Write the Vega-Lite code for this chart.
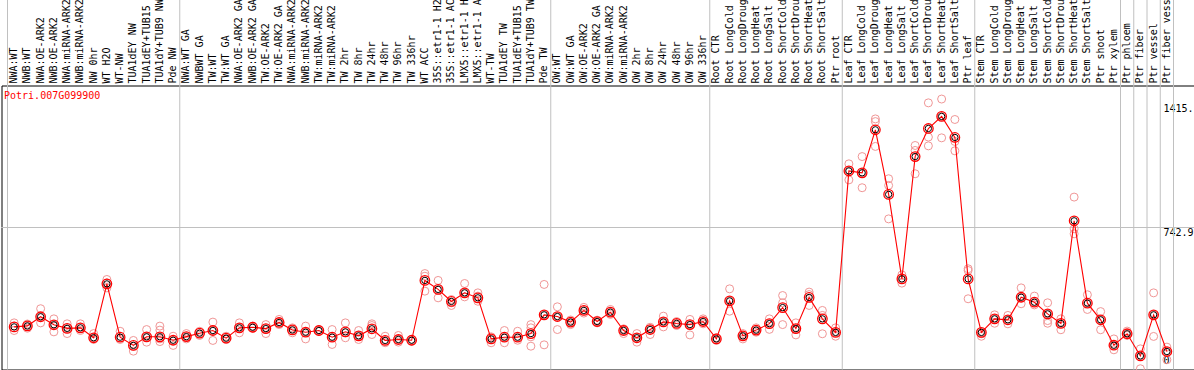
{
  "$schema": "https://vega.github.io/schema/vega-lite/v6.json",
  "width": 1192.5,
  "height": 284,
  "autosize": "none",
  "padding": {"top": 85.5, "left": 1.5, "right": 0, "bottom": 0.5},
  "background": "white",
  "config": {"view": {"stroke": "black", "strokeWidth": 1}, "font": "DejaVu Sans Mono"},
  "datasets": {
    "samples": [
      {"i":0,"s":"NWA:WT","m":223},{"i":1,"s":"NWB:WT","m":228},{"i":2,"s":"NWA:OE-ARK2","m":276},{"i":3,"s":"NWB:OE-ARK2","m":234},
      {"i":4,"s":"NWA:miRNA-ARK2","m":215},{"i":5,"s":"NWB:miRNA-ARK2","m":218},{"i":6,"s":"NW 0hr","m":166},{"i":7,"s":"WT H2O","m":448},
      {"i":8,"s":"WT-NW","m":169},{"i":9,"s":"TUA1dEY NW","m":126},{"i":10,"s":"TUA1dEY+TUB15 NW","m":171},{"i":11,"s":"TUA1dY+TUB9 NW","m":171},
      {"i":12,"s":"Pde NW","m":153},{"i":13,"s":"NWA:WT GA","m":172},{"i":14,"s":"NWBWT GA","m":190},{"i":15,"s":"TW:WT","m":204},
      {"i":16,"s":"TW:WT GA","m":164},{"i":17,"s":"NWA:OE-ARK2 GA","m":218},{"i":18,"s":"NWB:OE-ARK2 GA","m":221},{"i":19,"s":"TW:OE-ARK2","m":214},
      {"i":20,"s":"TW:OE-ARK2 GA","m":246},{"i":21,"s":"NWA:miRNA-ARK2 GA","m":207},{"i":22,"s":"NWB:miRNA-ARK2 GA","m":195},{"i":23,"s":"TW:miRNA-ARK2","m":204},
      {"i":24,"s":"TW:miRNA-ARK2 GA","m":169},{"i":25,"s":"TW 2hr","m":197},{"i":26,"s":"TW 8hr","m":176},{"i":27,"s":"TW 24hr","m":213},
      {"i":28,"s":"TW 48hr","m":152},{"i":29,"s":"TW 96hr","m":157},{"i":30,"s":"TW 336hr","m":153},{"i":31,"s":"WT ACC","m":466},
      {"i":32,"s":"35S::etr1-1 H2O","m":419},{"i":33,"s":"35S::etr1-1 ACC","m":356},{"i":34,"s":"LMX5::etr1-1 H2O","m":401},{"i":35,"s":"LMX5::etr1-1 ACC","m":375},
      {"i":36,"s":"WT-TW","m":160},{"i":37,"s":"TUA1dEY TW","m":169},{"i":38,"s":"TUA1dEY+TUB15 TW","m":169},{"i":39,"s":"TUA1dY+TUB9 TW","m":188},
      {"i":40,"s":"Pde TW","m":286},{"i":41,"s":"OW:WT","m":277},{"i":42,"s":"OW:WT GA","m":248},{"i":43,"s":"OW:OE-ARK2","m":309},
      {"i":44,"s":"OW:OE-ARK2 GA","m":251},{"i":45,"s":"OW:miRNA-ARK2","m":300},{"i":46,"s":"OW:miRNA-ARK2 GA","m":204},{"i":47,"s":"OW 2hr","m":166},
      {"i":48,"s":"OW 8hr","m":209},{"i":49,"s":"OW 24hr","m":249},{"i":50,"s":"OW 48hr","m":241},{"i":51,"s":"OW 96hr","m":235},
      {"i":52,"s":"OW 336hr","m":251},{"i":53,"s":"Root CTR","m":160},{"i":54,"s":"Root LongCold","m":359},{"i":55,"s":"Root LongDrought","m":176},
      {"i":56,"s":"Root LongHeat","m":206},{"i":57,"s":"Root LongSalt","m":240},{"i":58,"s":"Root ShortCold","m":324},{"i":59,"s":"Root ShortDrought","m":214},
      {"i":60,"s":"Root ShortHeat","m":377},{"i":61,"s":"Root ShortSalt","m":265},{"i":62,"s":"Ptr root","m":194},{"i":63,"s":"Leaf CTR","m":1039},
      {"i":64,"s":"Leaf LongCold","m":1029},{"i":65,"s":"Leaf LongDrought","m":1254},{"i":66,"s":"Leaf LongHeat","m":916},{"i":67,"s":"Leaf LongSalt","m":474},
      {"i":68,"s":"Leaf ShortCold","m":1114},{"i":69,"s":"Leaf ShortDrought","m":1261},{"i":70,"s":"Leaf ShortHeat","m":1324},{"i":71,"s":"Leaf ShortSalt","m":1214},
      {"i":72,"s":"Ptr leaf","m":474},{"i":73,"s":"Stem CTR","m":194},{"i":74,"s":"Stem LongCold","m":265},{"i":75,"s":"Stem LongDrought","m":260},
      {"i":76,"s":"Stem LongHeat","m":378},{"i":77,"s":"Stem LongSalt","m":352},{"i":78,"s":"Stem ShortCold","m":291},{"i":79,"s":"Stem ShortDrought","m":241},
      {"i":80,"s":"Stem ShortHeat","m":778},{"i":81,"s":"Stem ShortSalt","m":347},{"i":82,"s":"Ptr shoot","m":260},{"i":83,"s":"Ptr xylem","m":127},
      {"i":84,"s":"Ptr phloem","m":187},{"i":85,"s":"Ptr fiber","m":71},{"i":86,"s":"Ptr vessel","m":286},{"i":87,"s":"Ptr fiber vessel","m":94}
    ],
    "reps": [
      {"s":"NWA:WT","v":244},{"s":"NWA:WT","v":227},{"s":"NWA:WT","v":204},
      {"s":"NWB:WT","v":238},{"s":"NWB:WT","v":227},{"s":"NWB:WT","v":216},
      {"s":"NWA:OE-ARK2","v":318},{"s":"NWA:OE-ARK2","v":276},{"s":"NWA:OE-ARK2","v":244},
      {"s":"NWB:OE-ARK2","v":265},{"s":"NWB:OE-ARK2","v":234},{"s":"NWB:OE-ARK2","v":197},
      {"s":"NWA:miRNA-ARK2","v":239},{"s":"NWA:miRNA-ARK2","v":214},{"s":"NWA:miRNA-ARK2","v":188},
      {"s":"NWB:miRNA-ARK2","v":239},{"s":"NWB:miRNA-ARK2","v":221},{"s":"NWB:miRNA-ARK2","v":204},
      {"s":"NW 0hr","v":188},{"s":"NW 0hr","v":166},{"s":"NW 0hr","v":157},
      {"s":"WT H2O","v":471},{"s":"WT H2O","v":453},{"s":"WT H2O","v":427},
      {"s":"WT-NW","v":200},{"s":"WT-NW","v":166},{"s":"WT-NW","v":157},
      {"s":"TUA1dEY NW","v":152},{"s":"TUA1dEY NW","v":122},{"s":"TUA1dEY NW","v":96},
      {"s":"TUA1dEY+TUB15 NW","v":209},{"s":"TUA1dEY+TUB15 NW","v":171},{"s":"TUA1dEY+TUB15 NW","v":143},
      {"s":"TUA1dY+TUB9 NW","v":227},{"s":"TUA1dY+TUB9 NW","v":206},{"s":"TUA1dY+TUB9 NW","v":160},{"s":"TUA1dY+TUB9 NW","v":146},
      {"s":"Pde NW","v":174},{"s":"Pde NW","v":152},{"s":"Pde NW","v":126},
      {"s":"NWA:WT GA","v":188},{"s":"NWA:WT GA","v":171},{"s":"NWA:WT GA","v":160},
      {"s":"NWBWT GA","v":200},{"s":"NWBWT GA","v":188},{"s":"NWBWT GA","v":178},
      {"s":"TW:WT","v":248},{"s":"TW:WT","v":204},{"s":"TW:WT","v":152},
      {"s":"TW:WT GA","v":174},{"s":"TW:WT GA","v":164},{"s":"TW:WT GA","v":157},
      {"s":"NWA:OE-ARK2 GA","v":244},{"s":"NWA:OE-ARK2 GA","v":218},{"s":"NWA:OE-ARK2 GA","v":192},
      {"s":"NWB:OE-ARK2 GA","v":227},{"s":"NWB:OE-ARK2 GA","v":221},{"s":"NWB:OE-ARK2 GA","v":216},
      {"s":"TW:OE-ARK2","v":235},{"s":"TW:OE-ARK2","v":214},{"s":"TW:OE-ARK2","v":188},
      {"s":"TW:OE-ARK2 GA","v":262},{"s":"TW:OE-ARK2 GA","v":246},{"s":"TW:OE-ARK2 GA","v":235},
      {"s":"NWA:miRNA-ARK2 GA","v":218},{"s":"NWA:miRNA-ARK2 GA","v":207},{"s":"NWA:miRNA-ARK2 GA","v":192},
      {"s":"NWB:miRNA-ARK2 GA","v":227},{"s":"NWB:miRNA-ARK2 GA","v":195},{"s":"NWB:miRNA-ARK2 GA","v":160},
      {"s":"TW:miRNA-ARK2","v":209},{"s":"TW:miRNA-ARK2","v":204},{"s":"TW:miRNA-ARK2","v":199},
      {"s":"TW:miRNA-ARK2 GA","v":209},{"s":"TW:miRNA-ARK2 GA","v":169},{"s":"TW:miRNA-ARK2 GA","v":131},
      {"s":"TW 2hr","v":244},{"s":"TW 2hr","v":192},{"s":"TW 2hr","v":166},
      {"s":"TW 8hr","v":204},{"s":"TW 8hr","v":176},{"s":"TW 8hr","v":157},
      {"s":"TW 24hr","v":239},{"s":"TW 24hr","v":230},{"s":"TW 24hr","v":183},
      {"s":"TW 48hr","v":174},{"s":"TW 48hr","v":152},{"s":"TW 48hr","v":140},
      {"s":"TW 96hr","v":178},{"s":"TW 96hr","v":157},{"s":"TW 96hr","v":143},
      {"s":"TW 336hr","v":157},{"s":"TW 336hr","v":150},{"s":"TW 336hr","v":148},
      {"s":"WT ACC","v":502},{"s":"WT ACC","v":488},{"s":"WT ACC","v":410},
      {"s":"35S::etr1-1 H2O","v":466},{"s":"35S::etr1-1 H2O","v":419},{"s":"35S::etr1-1 H2O","v":375},
      {"s":"35S::etr1-1 ACC","v":366},{"s":"35S::etr1-1 ACC","v":349},{"s":"35S::etr1-1 ACC","v":335},
      {"s":"LMX5::etr1-1 H2O","v":450},{"s":"LMX5::etr1-1 H2O","v":401},{"s":"LMX5::etr1-1 H2O","v":380},
      {"s":"LMX5::etr1-1 ACC","v":401},{"s":"LMX5::etr1-1 ACC","v":384},{"s":"LMX5::etr1-1 ACC","v":357},
      {"s":"WT-TW","v":171},{"s":"WT-TW","v":160},{"s":"WT-TW","v":140},
      {"s":"TUA1dEY TW","v":204},{"s":"TUA1dEY TW","v":169},{"s":"TUA1dEY TW","v":140},
      {"s":"TUA1dEY+TUB15 TW","v":200},{"s":"TUA1dEY+TUB15 TW","v":169},{"s":"TUA1dEY+TUB15 TW","v":153},
      {"s":"TUA1dY+TUB9 TW","v":235},{"s":"TUA1dY+TUB9 TW","v":218},{"s":"TUA1dY+TUB9 TW","v":171},{"s":"TUA1dY+TUB9 TW","v":122},
      {"s":"Pde TW","v":445},{"s":"Pde TW","v":286},{"s":"Pde TW","v":129},
      {"s":"OW:WT","v":328},{"s":"OW:WT","v":277},{"s":"OW:WT","v":209},
      {"s":"OW:WT GA","v":259},{"s":"OW:WT GA","v":248},{"s":"OW:WT GA","v":235},
      {"s":"OW:OE-ARK2","v":325},{"s":"OW:OE-ARK2","v":309},{"s":"OW:OE-ARK2","v":295},
      {"s":"OW:OE-ARK2 GA","v":258},{"s":"OW:OE-ARK2 GA","v":251},{"s":"OW:OE-ARK2 GA","v":244},
      {"s":"OW:miRNA-ARK2","v":314},{"s":"OW:miRNA-ARK2","v":300},{"s":"OW:miRNA-ARK2","v":288},
      {"s":"OW:miRNA-ARK2 GA","v":213},{"s":"OW:miRNA-ARK2 GA","v":204},{"s":"OW:miRNA-ARK2 GA","v":188},
      {"s":"OW 2hr","v":188},{"s":"OW 2hr","v":166},{"s":"OW 2hr","v":143},
      {"s":"OW 8hr","v":221},{"s":"OW 8hr","v":209},{"s":"OW 8hr","v":183},
      {"s":"OW 24hr","v":279},{"s":"OW 24hr","v":249},{"s":"OW 24hr","v":223},
      {"s":"OW 48hr","v":251},{"s":"OW 48hr","v":241},{"s":"OW 48hr","v":230},
      {"s":"OW 96hr","v":262},{"s":"OW 96hr","v":235},{"s":"OW 96hr","v":181},
      {"s":"OW 336hr","v":265},{"s":"OW 336hr","v":251},{"s":"OW 336hr","v":239},
      {"s":"Root CTR","v":167},{"s":"Root CTR","v":160},{"s":"Root CTR","v":152},
      {"s":"Root LongCold","v":422},{"s":"Root LongCold","v":359},{"s":"Root LongCold","v":305},
      {"s":"Root LongDrought","v":188},{"s":"Root LongDrought","v":176},{"s":"Root LongDrought","v":160},
      {"s":"Root LongHeat","v":218},{"s":"Root LongHeat","v":206},{"s":"Root LongHeat","v":195},
      {"s":"Root LongSalt","v":265},{"s":"Root LongSalt","v":240},{"s":"Root LongSalt","v":210},
      {"s":"Root ShortCold","v":387},{"s":"Root ShortCold","v":349},{"s":"Root ShortCold","v":235},
      {"s":"Root ShortDrought","v":244},{"s":"Root ShortDrought","v":214},{"s":"Root ShortDrought","v":181},
      {"s":"Root ShortHeat","v":405},{"s":"Root ShortHeat","v":392},{"s":"Root ShortHeat","v":335},
      {"s":"Root ShortSalt","v":309},{"s":"Root ShortSalt","v":283},{"s":"Root ShortSalt","v":187},
      {"s":"Ptr root","v":218},{"s":"Ptr root","v":194},{"s":"Ptr root","v":174},
      {"s":"Leaf CTR","v":1076},{"s":"Leaf CTR","v":1039},{"s":"Leaf CTR","v":992},
      {"s":"Leaf LongCold","v":1114},{"s":"Leaf LongCold","v":1029},{"s":"Leaf LongCold","v":951},
      {"s":"Leaf LongDrought","v":1311},{"s":"Leaf LongDrought","v":1297},{"s":"Leaf LongDrought","v":1167},
      {"s":"Leaf LongHeat","v":998},{"s":"Leaf LongHeat","v":963},{"s":"Leaf LongHeat","v":788},
      {"s":"Leaf LongSalt","v":495},{"s":"Leaf LongSalt","v":474},{"s":"Leaf LongSalt","v":452},
      {"s":"Leaf ShortCold","v":1172},{"s":"Leaf ShortCold","v":1146},{"s":"Leaf ShortCold","v":1024},
      {"s":"Leaf ShortDrought","v":1395},{"s":"Leaf ShortDrought","v":1216},{"s":"Leaf ShortDrought","v":1170},
      {"s":"Leaf ShortHeat","v":1415},{"s":"Leaf ShortHeat","v":1324},{"s":"Leaf ShortHeat","v":1212},
      {"s":"Leaf ShortSalt","v":1308},{"s":"Leaf ShortSalt","v":1193},{"s":"Leaf ShortSalt","v":1144},
      {"s":"Ptr leaf","v":527},{"s":"Ptr leaf","v":518},{"s":"Ptr leaf","v":370},
      {"s":"Stem CTR","v":194},{"s":"Stem CTR","v":187},{"s":"Stem CTR","v":174},
      {"s":"Stem LongCold","v":286},{"s":"Stem LongCold","v":265},{"s":"Stem LongCold","v":242},
      {"s":"Stem LongDrought","v":283},{"s":"Stem LongDrought","v":260},{"s":"Stem LongDrought","v":239},
      {"s":"Stem LongHeat","v":427},{"s":"Stem LongHeat","v":378},{"s":"Stem LongHeat","v":344},
      {"s":"Stem LongSalt","v":384},{"s":"Stem LongSalt","v":352},{"s":"Stem LongSalt","v":338},
      {"s":"Stem ShortCold","v":349},{"s":"Stem ShortCold","v":291},{"s":"Stem ShortCold","v":256},{"s":"Stem ShortCold","v":242},
      {"s":"Stem ShortDrought","v":265},{"s":"Stem ShortDrought","v":241},{"s":"Stem ShortDrought","v":208},
      {"s":"Stem ShortHeat","v":902},{"s":"Stem ShortHeat","v":736},{"s":"Stem ShortHeat","v":710},
      {"s":"Stem ShortSalt","v":391},{"s":"Stem ShortSalt","v":347},{"s":"Stem ShortSalt","v":314},
      {"s":"Ptr shoot","v":303},{"s":"Ptr shoot","v":260},{"s":"Ptr shoot","v":208},
      {"s":"Ptr xylem","v":160},{"s":"Ptr xylem","v":127},{"s":"Ptr xylem","v":103},
      {"s":"Ptr phloem","v":201},{"s":"Ptr phloem","v":187},{"s":"Ptr phloem","v":178},
      {"s":"Ptr fiber","v":108},{"s":"Ptr fiber","v":71},{"s":"Ptr fiber","v":4},
      {"s":"Ptr vessel","v":401},{"s":"Ptr vessel","v":286},{"s":"Ptr vessel","v":173},
      {"s":"Ptr fiber vessel","v":117},{"s":"Ptr fiber vessel","v":94},{"s":"Ptr fiber vessel","v":51}
    ],
    "sepsEnd": [
      {"s":"Pde NW"},{"s":"Pde TW"},{"s":"OW 336hr"},{"s":"Ptr root"},{"s":"Ptr leaf"},
      {"s":"Ptr xylem"},{"s":"Ptr phloem"},{"s":"Ptr fiber"},{"s":"Ptr vessel"},{"s":"Ptr fiber vessel"}
    ],
    "sepsStart": [{"s":"NWA:WT"}]
  },
  "layer": [
    {
      "data": {"name": "samples"},
      "mark": {"type": "rule", "color": "#c0c0c0", "strokeWidth": 1},
      "encoding": {
        "y": {"datum": 742.9, "type": "quantitative"}
      }
    },
    {
      "data": {"name": "sepsEnd"},
      "mark": {"type": "rule", "color": "#c0c0c0", "strokeWidth": 1},
      "encoding": {
        "x": {"field": "s", "type": "nominal", "bandPosition": 1},
        "y": {"datum": 0, "type": "quantitative"},
        "y2": {"datum": 1940}
      }
    },
    {
      "data": {"name": "sepsStart"},
      "mark": {"type": "rule", "color": "#c0c0c0", "strokeWidth": 1},
      "encoding": {
        "x": {"field": "s", "type": "nominal", "bandPosition": 0},
        "y": {"datum": 0, "type": "quantitative"},
        "y2": {"datum": 1940}
      }
    },
    {
      "data": {"name": "reps"},
      "mark": {"type": "point", "shape": "circle", "filled": false, "stroke": "#f09696", "strokeWidth": 1, "size": 64, "opacity": 1},
      "encoding": {
        "x": {"field": "s", "type": "nominal"},
        "y": {"field": "v", "type": "quantitative"}
      }
    },
    {
      "data": {"name": "samples"},
      "mark": {"type": "line", "color": "#ff0000", "strokeWidth": 1.1},
      "encoding": {
        "x": {"field": "s", "type": "nominal"},
        "y": {"field": "m", "type": "quantitative"},
        "order": {"field": "i", "type": "quantitative"}
      }
    },
    {
      "data": {"name": "samples"},
      "mark": {"type": "point", "shape": "circle", "filled": false, "stroke": "#ff0000", "strokeWidth": 1.3, "size": 90, "opacity": 1},
      "encoding": {
        "x": {
          "field": "s", "type": "nominal",
          "scale": {
            "type": "band", "paddingInner": 0, "paddingOuter": 1.8653846, "align": 0.2268, "round": false,
            "domain": ["NWA:WT","NWB:WT","NWA:OE-ARK2","NWB:OE-ARK2","NWA:miRNA-ARK2","NWB:miRNA-ARK2","NW 0hr","WT H2O","WT-NW","TUA1dEY NW","TUA1dEY+TUB15 NW","TUA1dY+TUB9 NW","Pde NW","NWA:WT GA","NWBWT GA","TW:WT","TW:WT GA","NWA:OE-ARK2 GA","NWB:OE-ARK2 GA","TW:OE-ARK2","TW:OE-ARK2 GA","NWA:miRNA-ARK2 GA","NWB:miRNA-ARK2 GA","TW:miRNA-ARK2","TW:miRNA-ARK2 GA","TW 2hr","TW 8hr","TW 24hr","TW 48hr","TW 96hr","TW 336hr","WT ACC","35S::etr1-1 H2O","35S::etr1-1 ACC","LMX5::etr1-1 H2O","LMX5::etr1-1 ACC","WT-TW","TUA1dEY TW","TUA1dEY+TUB15 TW","TUA1dY+TUB9 TW","Pde TW","OW:WT","OW:WT GA","OW:OE-ARK2","OW:OE-ARK2 GA","OW:miRNA-ARK2","OW:miRNA-ARK2 GA","OW 2hr","OW 8hr","OW 24hr","OW 48hr","OW 96hr","OW 336hr","Root CTR","Root LongCold","Root LongDrought","Root LongHeat","Root LongSalt","Root ShortCold","Root ShortDrought","Root ShortHeat","Root ShortSalt","Ptr root","Leaf CTR","Leaf LongCold","Leaf LongDrought","Leaf LongHeat","Leaf LongSalt","Leaf ShortCold","Leaf ShortDrought","Leaf ShortHeat","Leaf ShortSalt","Ptr leaf","Stem CTR","Stem LongCold","Stem LongDrought","Stem LongHeat","Stem LongSalt","Stem ShortCold","Stem ShortDrought","Stem ShortHeat","Stem ShortSalt","Ptr shoot","Ptr xylem","Ptr phloem","Ptr fiber","Ptr vessel","Ptr fiber vessel"]
          },
          "axis": {
            "orient": "top", "title": null, "labelAngle": -90, "labelAlign": "left", "labelBaseline": "middle",
            "labelFont": "DejaVu Sans Mono", "labelFontSize": 10, "labelColor": "black", "labelPadding": 2.5,
            "ticks": false, "tickSize": 0, "domain": false, "grid": false, "labelLimit": 0, "labelOverlap": false
          }
        },
        "y": {
          "field": "m", "type": "quantitative",
          "scale": {"domain": [0, 1485.8], "nice": false, "zero": true, "clamp": false},
          "axis": {
            "orient": "right", "offset": -31, "title": null, "values": [0, 742.9, 1415], "format": ".1f",
            "labelExpr": "datum.value == 0 ? '0' : (datum.value > 1000 ? '1415.' : '742.9')",
            "labelFont": "DejaVu Sans Mono", "labelFontSize": 10, "labelColor": "black", "labelAlign": "left",
            "labelPadding": 0, "ticks": false, "tickSize": 0, "domain": false, "grid": false,
            "labelBaseline": {"condition": {"test": "datum.value == 0", "value": "bottom"}, "value": "top"},
            "labelOffset": {"condition": [{"test": "datum.value > 1000", "value": 4}, {"test": "datum.value == 0", "value": -4}], "value": 0}
          }
        }
      }
    },
    {
      "data": {"name": "samples"},
      "mark": {"type": "point", "shape": "circle", "filled": false, "stroke": "#000000", "strokeWidth": 1, "size": 40, "opacity": 1},
      "encoding": {
        "x": {"field": "s", "type": "nominal"},
        "y": {"field": "m", "type": "quantitative"}
      }
    },
    {
      "data": {"values": [{}]},
      "mark": {"type": "text", "text": "Potri.007G099900", "align": "left", "baseline": "middle", "dx": -3.5, "color": "#ff0000", "font": "DejaVu Sans Mono", "fontSize": 10},
      "encoding": {
        "x": {"datum": "NWA:WT", "type": "nominal", "bandPosition": 0},
        "y": {"datum": 1432, "type": "quantitative"}
      }
    }
  ]
}
